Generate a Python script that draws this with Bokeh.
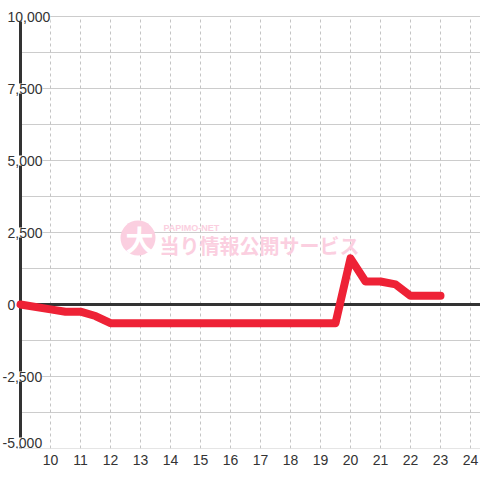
from bokeh.plotting import figure
from bokeh.models import ColumnDataSource, FixedTicker, Range1d
from bokeh.core.properties import value
from bokeh.embed import file_html
from bokeh.resources import INLINE

# ---- data ----
hours = [9, 10, 10.5, 11, 11.5, 12, 19.5, 20, 20.5, 21, 21.5, 22, 23]
diff = [0, -170, -250, -250, -400, -650, -650, 1600, 800, 800, 700, 300, 300]
x_ticks = list(range(10, 25))
x_tick_labels = [str(h) for h in x_ticks]
y_ticks = [10000, 7500, 5000, 2500, 0, -2500, -5000]
y_tick_labels = ["10,000", "7,500", "5,000", "2,500", "0", "-2,500", "-5,000"]
y_grid = [10000, 8750, 7500, 6250, 5000, 3750, 2500, 1250, 0, -1250, -2500, -3750, -5000]
wm_icon = "大"
wm_small = "PAPIMO-NET"
wm_big = "当り情報公開サービス"

# ---- scale helpers (pixel layout of the frame) ----
W, H = 480, 480
BOTTOM = 32
X0, X_PX0, PX_PER_H = 9, 20, 30.0
Y_PX0, PX_PER_2500 = 304, 72.0

def dx(px):
    return X0 + (px - X_PX0) / PX_PER_H

def dy(py):
    return (Y_PX0 - py) / PX_PER_2500 * 2500

x_start, x_end = dx(0), dx(W)
y_end, y_start = dy(0), dy(H - BOTTOM)

p = figure(width=W, height=H, output_backend="svg", toolbar_location=None,
           x_range=Range1d(x_start, x_end), y_range=Range1d(y_start, y_end),
           y_axis_location=None, min_border_left=0, min_border_right=0,
           min_border_top=0, min_border_bottom=BOTTOM)
p.grid.visible = False
p.outline_line_color = None
p.background_fill_color = "white"
p.border_fill_color = "white"

ax = p.xaxis[0]
ax.ticker = FixedTicker(ticks=x_ticks)
ax.major_label_overrides = {t: s for t, s in zip(x_ticks, x_tick_labels)}
ax.axis_line_color = None
ax.major_tick_line_color = None
ax.minor_tick_line_color = None
ax.major_tick_out = 0
ax.major_tick_in = 0
ax.major_label_standoff = 6
ax.major_label_text_font = "Liberation Sans"
ax.major_label_text_font_size = "14px"
ax.major_label_text_color = "#333333"

# grid lines
p.segment(x0=[X0] * len(y_grid), x1=[x_end] * len(y_grid), y0=y_grid, y1=y_grid,
          line_color="#cccccc", line_width=1)
p.segment(x0=x_ticks, x1=x_ticks, y0=[min(y_ticks)] * len(x_ticks),
          y1=[max(y_ticks)] * len(x_ticks), line_color="#c4c4c4",
          line_width=1, line_dash="3 3")

# watermark
pink = "#fbcfe0"
p.scatter(x=[dx(137.5)], y=[dy(237.5)], size=35, marker="circle",
          fill_color=pink, line_color=None)
p.text(x=[dx(139)], y=[dy(238)], text=[wm_icon], text_align="center",
       text_baseline="middle", text_color="white", text_font_style="bold",
       text_font=value("Noto Sans CJK JP"), text_font_size="28px")
p.text(x=[dx(163)], y=[dy(227)], text=[wm_small], text_align="left",
       text_baseline="middle", text_color=pink, text_font_style="bold",
       text_font=value("Liberation Sans"), text_font_size="9px")
p.text(x=[dx(159)], y=[dy(245)], text=[wm_big], text_align="left",
       text_baseline="middle", text_color=pink, text_font_style="bold",
       text_font=value("Noto Sans CJK JP"), text_font_size="20px")

# axis line and zero line
p.segment(x0=[X0], x1=[X0], y0=[min(y_ticks)], y1=[max(y_ticks)],
          line_color="#333333", line_width=3)
p.segment(x0=[X0], x1=[x_end], y0=[0], y1=[0], line_color="#333333", line_width=3)

# y tick labels (drawn inside the frame, with white background)
lab = ColumnDataSource(dict(
    x=[dx(7)] * len(y_ticks),
    y=y_ticks,
    text=y_tick_labels,
    xo=[-5 if t.startswith("-") else 0 for t in y_tick_labels],
    yo=[-6 if v == min(y_ticks) else 0 for v in y_ticks],
))
p.text(x="x", y="y", text="text", x_offset="xo", y_offset="yo", source=lab,
       text_align="left", text_baseline="middle", text_color="#333333",
       text_font=value("Liberation Sans"), text_font_size="14px",
       background_fill_color="white")

# series
p.line(hours, diff, line_color="#ee2236", line_width=8,
       line_join="round", line_cap="round")

open("out.html", "w").write(file_html(p, INLINE))
